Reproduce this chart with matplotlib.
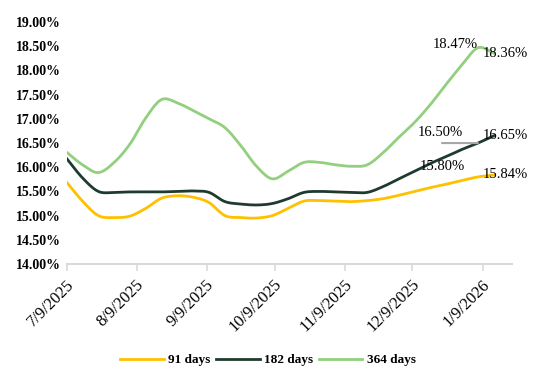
import numpy as np
import pandas as pd
import matplotlib
matplotlib.use("Agg")
import matplotlib.pyplot as plt
import matplotlib.dates as mdates
import matplotlib.transforms as mtransforms
from matplotlib.ticker import FuncFormatter, MultipleLocator

# weekly auction dates
dates = pd.date_range("2025-07-09", periods=28, freq="7D")

t91 = [15.69, 15.30, 15.00, 14.96, 14.99, 15.15, 15.36, 15.41, 15.38, 15.27,
       15.00, 14.96, 14.95, 15.00, 15.15, 15.30, 15.31, 15.30, 15.29, 15.31,
       15.35, 15.42, 15.50, 15.58, 15.65, 15.73, 15.80, 15.84]
t182 = [16.18, 15.78, 15.50, 15.48, 15.49, 15.49, 15.49, 15.50, 15.51, 15.48,
        15.29, 15.24, 15.22, 15.25, 15.35, 15.48, 15.50, 15.49, 15.48, 15.48,
        15.60, 15.76, 15.92, 16.08, 16.22, 16.37, 16.50, 16.65]
t364 = [16.31, 16.05, 15.89, 16.10, 16.48, 17.02, 17.40, 17.33, 17.17, 17.00,
        16.82, 16.45, 16.02, 15.76, 15.92, 16.10, 16.10, 16.05, 16.02, 16.05,
        16.30, 16.62, 16.93, 17.30, 17.72, 18.12, 18.47, 18.36]

series = ["91 days", "182 days", "364 days"]
colors = ["#FFC000", "#1E3B2E", "#92CF7E"]

serif = ["Liberation Serif", "DejaVu Serif"]


def smooth(x, y, n=12):
    # catmull-rom curve through the points, like a smoothed line in a spreadsheet
    x = np.asarray(x, float)
    y = np.asarray(y, float)
    px = np.concatenate([[2 * x[0] - x[1]], x, [2 * x[-1] - x[-2]]])
    py = np.concatenate([[2 * y[0] - y[1]], y, [2 * y[-1] - y[-2]]])
    xs, ys = [], []
    t = np.linspace(0, 1, n, endpoint=False)
    for i in range(1, len(px) - 2):
        for p, out in ((px, xs), (py, ys)):
            p0, p1, p2, p3 = p[i - 1], p[i], p[i + 1], p[i + 2]
            out.extend(0.5 * (2 * p1 + (-p0 + p2) * t
                              + (2 * p0 - 5 * p1 + 4 * p2 - p3) * t ** 2
                              + (-p0 + 3 * p1 - 3 * p2 + p3) * t ** 3))
    xs.append(x[-1])
    ys.append(y[-1])
    return np.array(xs), np.array(ys)


fig = plt.figure(figsize=(5.36, 3.88), dpi=100)
ax = fig.add_axes([0.1244, 0.3196, 0.8306, 0.6234])

xnum = mdates.date2num(dates)
for vals, name, c in zip([t91, t182, t364], series, colors):
    sx, sy = smooth(xnum, vals)
    ax.plot(mdates.num2date(sx), sy, color=c, lw=2, label=name)

ax.set_ylim(14, 19)
ax.yaxis.set_major_locator(MultipleLocator(0.5))
ax.yaxis.set_major_formatter(FuncFormatter(lambda v, p: f"{v:.2f}%"))
ax.set_xlim(dates[0], dates[0] + pd.Timedelta(days=197))
ax.xaxis.set_major_locator(mdates.MonthLocator(bymonthday=9))
ax.xaxis.set_major_formatter(FuncFormatter(
    lambda v, p: f"{mdates.num2date(v).month}/{mdates.num2date(v).day}/{mdates.num2date(v).year}"))

for s in ["top", "right", "left"]:
    ax.spines[s].set_visible(False)
ax.spines["bottom"].set_color("#D9D9D9")
ax.spines["bottom"].set_linewidth(1.5)
ax.tick_params(axis="y", length=0, pad=4)
ax.tick_params(axis="x", length=5, width=1.2, color="#D9D9D9", pad=8)

for lab in ax.get_yticklabels():
    lab.set_family(serif)
    lab.set_fontweight("bold")
    lab.set_fontsize(10)
shift = mtransforms.ScaledTranslation(5 / 100, 0, fig.dpi_scale_trans)
for lab in ax.get_xticklabels():
    lab.set_family(serif)
    lab.set_fontsize(12)
    lab.set_rotation(45)
    lab.set_ha("right")
    lab.set_va("center")
    lab.set_rotation_mode("anchor")
    lab.set_transform(lab.get_transform() + shift)

# data labels for the last two auctions
lab_kw = dict(textcoords="offset pixels", family=serif, fontsize=10.5, color="black")
ax.annotate(f"{t364[-2]:.2f}%", (dates[-2], t364[-2]), xytext=(0, 3), ha="right", va="center", **lab_kw)
ax.annotate(f"{t364[-1]:.2f}%", (dates[-1], t364[-1]), xytext=(-11, 0), ha="left", va="center", **lab_kw)
ax.annotate("", (dates[-2], t182[-2]), xytext=(-36, 0), textcoords="offset pixels",
            arrowprops=dict(arrowstyle="-", color="#A6A6A6", lw=1.5, shrinkA=0, shrinkB=0))
ax.annotate(f"{t182[-2]:.2f}%", (dates[-2], t182[-2]), xytext=(-15, 11), ha="right", va="center", **lab_kw)
ax.annotate(f"{t182[-1]:.2f}%", (dates[-1], t182[-1]), xytext=(-11, 0), ha="left", va="center", **lab_kw)
ax.annotate(f"{t91[-2]:.2f}%", (dates[-2], t91[-2]), xytext=(-13, 10), ha="right", va="center", **lab_kw)
ax.annotate(f"{t91[-1]:.2f}%", (dates[-1], t91[-1]), xytext=(-11, 0), ha="left", va="center", **lab_kw)

fig.legend(loc="center", bbox_to_anchor=(0.5, 0.072), ncol=3, frameon=False,
           handlelength=3.3, columnspacing=0.4, handletextpad=0.35,
           prop=dict(family=serif, weight="bold", size=9.5))

fig.savefig("out.png", dpi=100)
